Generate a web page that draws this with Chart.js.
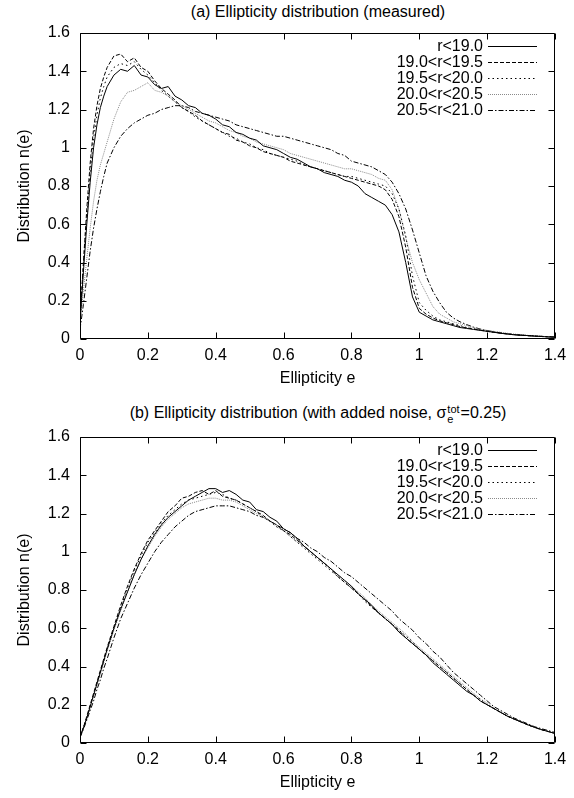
<!DOCTYPE html>
<html>
<head>
<meta charset="utf-8">
<script src="https://cdn.jsdelivr.net/npm/chart.js@4.4.1/dist/chart.umd.min.js"></script>
<style>
  html, body { margin: 0; padding: 0; background: #fff; overflow: hidden; }
  body { width: 574px; height: 798px; position: relative; font-family: "Liberation Sans", Arial, sans-serif; }
  .box { position: absolute; left: 0; width: 574px; }
  .ttl { position: absolute; left: 318px; transform: translateX(-50%); white-space: nowrap;
         font-size: 16px; line-height: 19px; color: #000; }
  .ss { display: inline-block; vertical-align: middle; font-size: 11px; line-height: 10px; text-align: left; margin: 0 1px; }
  .ss span { display: block; }
</style>
</head>
<body>
<div class="ttl" style="top:2px">(a) Ellipticity distribution (measured)</div>
<div class="ttl" style="top:403px">(b) Ellipticity distribution (with added noise, σ<span class="ss"><span>tot</span><span>e</span></span>=0.25)</div>
<div class="box" style="top:0;height:400px"><canvas id="chartA" width="574" height="400"></canvas></div>
<div class="box" style="top:400px;height:398px"><canvas id="chartB" width="574" height="398"></canvas></div>
<script>
const seriesLabels = ["r<19.0", "19.0<r<19.5", "19.5<r<20.0", "20.0<r<20.5", "20.5<r<21.0"];

const ePts = [0, 0.01, 0.02, 0.03, 0.04, 0.05, 0.06, 0.07, 0.08,
  0.10, 0.12, 0.14, 0.16, 0.18, 0.20, 0.22, 0.24, 0.26, 0.28,
  0.30, 0.32, 0.34, 0.36, 0.38, 0.40, 0.42, 0.44, 0.46, 0.48,
  0.50, 0.52, 0.54, 0.56, 0.58, 0.60, 0.62, 0.64, 0.66, 0.68,
  0.70, 0.72, 0.74, 0.76, 0.78, 0.80, 0.82, 0.84, 0.86, 0.88,
  0.90, 0.92, 0.94, 0.96, 0.98, 1.00, 1.02, 1.04, 1.06, 1.08,
  1.10, 1.12, 1.14, 1.16, 1.18, 1.20, 1.22, 1.24, 1.26, 1.28,
  1.30, 1.32, 1.34, 1.36, 1.38, 1.40];

// (a) measured
const aR19 = [0.08, 0.35, 0.60, 0.82, 1.00, 1.12, 1.21, 1.27, 1.32,
  1.38, 1.41, 1.40, 1.43, 1.38, 1.37, 1.33, 1.31, 1.32, 1.27,
  1.25, 1.22, 1.21, 1.18, 1.17, 1.15, 1.12, 1.11, 1.08, 1.07,
  1.05, 1.04, 1.01, 1.00, 0.99, 0.97, 0.95, 0.94, 0.92, 0.90,
  0.89, 0.87, 0.86, 0.85, 0.83, 0.82, 0.80, 0.76, 0.74, 0.72,
  0.70, 0.65, 0.56, 0.40, 0.22, 0.14, 0.12, 0.10, 0.09, 0.08,
  0.07, 0.06, 0.055, 0.05, 0.045, 0.04, 0.035, 0.03, 0.026, 0.022,
  0.02, 0.018, 0.015, 0.013, 0.011, 0.01];
const aR195 = [0.10, 0.40, 0.68, 0.92, 1.10, 1.22, 1.31, 1.37, 1.42,
  1.48, 1.49, 1.45, 1.47, 1.42, 1.40, 1.35, 1.31, 1.28, 1.25,
  1.21, 1.19, 1.17, 1.14, 1.12, 1.10, 1.08, 1.07, 1.04, 1.03,
  1.01, 1.00, 0.98, 0.97, 0.96, 0.95, 0.93, 0.92, 0.91, 0.90,
  0.89, 0.88, 0.87, 0.86, 0.85, 0.84, 0.83, 0.82, 0.81, 0.80,
  0.78, 0.73, 0.64, 0.48, 0.27, 0.16, 0.13, 0.11, 0.095, 0.085,
  0.075, 0.065, 0.058, 0.052, 0.046, 0.04, 0.035, 0.03, 0.026, 0.022,
  0.02, 0.017, 0.015, 0.013, 0.011, 0.01];
const aR20 = [0.10, 0.38, 0.64, 0.87, 1.05, 1.17, 1.26, 1.32, 1.37,
  1.42, 1.44, 1.43, 1.45, 1.41, 1.38, 1.34, 1.30, 1.27, 1.24,
  1.21, 1.19, 1.16, 1.14, 1.12, 1.10, 1.08, 1.06, 1.05, 1.03,
  1.02, 1.00, 0.99, 0.97, 0.96, 0.95, 0.94, 0.93, 0.91, 0.90,
  0.89, 0.88, 0.87, 0.86, 0.85, 0.85, 0.84, 0.83, 0.82, 0.81,
  0.80, 0.76, 0.68, 0.54, 0.33, 0.19, 0.15, 0.12, 0.10, 0.09,
  0.08, 0.07, 0.06, 0.053, 0.047, 0.041, 0.036, 0.031, 0.027, 0.023,
  0.02, 0.018, 0.016, 0.014, 0.012, 0.01];
const aR205 = [0.08, 0.25, 0.42, 0.58, 0.72, 0.83, 0.91, 0.97, 1.03,
  1.15, 1.24, 1.29, 1.30, 1.32, 1.34, 1.30, 1.29, 1.27, 1.24,
  1.22, 1.20, 1.18, 1.16, 1.14, 1.13, 1.11, 1.09, 1.08, 1.06,
  1.05, 1.03, 1.02, 1.01, 1.00, 0.99, 0.97, 0.96, 0.95, 0.94,
  0.93, 0.92, 0.91, 0.90, 0.89, 0.89, 0.88, 0.87, 0.86, 0.84,
  0.83, 0.78, 0.68, 0.53, 0.40, 0.31, 0.24, 0.17, 0.13, 0.11,
  0.09, 0.08, 0.07, 0.06, 0.052, 0.045, 0.04, 0.035, 0.03, 0.026,
  0.022, 0.019, 0.016, 0.014, 0.012, 0.01];
const aR21 = [0.05, 0.18, 0.32, 0.46, 0.58, 0.68, 0.77, 0.85, 0.92,
  1.00, 1.06, 1.10, 1.13, 1.15, 1.17, 1.18, 1.20, 1.21, 1.22,
  1.22, 1.21, 1.19, 1.18, 1.17, 1.16, 1.15, 1.14, 1.12, 1.11,
  1.10, 1.09, 1.08, 1.07, 1.06, 1.06, 1.05, 1.04, 1.03, 1.02,
  1.01, 1.00, 0.99, 0.97, 0.96, 0.93, 0.92, 0.91, 0.90, 0.88,
  0.86, 0.82, 0.76, 0.68, 0.57, 0.45, 0.33, 0.25, 0.19, 0.14,
  0.11, 0.09, 0.075, 0.062, 0.052, 0.044, 0.038, 0.032, 0.027, 0.023,
  0.02, 0.018, 0.016, 0.014, 0.012, 0.01];

// (b) with added noise
const bR19 = [0.03, 0.08, 0.13, 0.19, 0.25, 0.31, 0.37, 0.43, 0.49,
  0.60, 0.70, 0.79, 0.88, 0.96, 1.03, 1.09, 1.14, 1.18, 1.21,
  1.24, 1.27, 1.29, 1.31, 1.33, 1.33, 1.31, 1.32, 1.30, 1.27,
  1.26, 1.22, 1.21, 1.18, 1.16, 1.12, 1.10, 1.07, 1.03, 1.00,
  0.97, 0.94, 0.91, 0.88, 0.85, 0.82, 0.78, 0.75, 0.72, 0.68,
  0.65, 0.62, 0.58, 0.55, 0.52, 0.49, 0.46, 0.42, 0.39, 0.36,
  0.33, 0.30, 0.27, 0.25, 0.22, 0.20, 0.18, 0.16, 0.14, 0.125,
  0.11, 0.095, 0.082, 0.07, 0.06, 0.05];
const bR195 = [0.03, 0.08, 0.14, 0.20, 0.26, 0.32, 0.38, 0.44, 0.50,
  0.61, 0.72, 0.82, 0.91, 0.99, 1.06, 1.11, 1.16, 1.21, 1.24,
  1.28, 1.29, 1.31, 1.32, 1.30, 1.32, 1.29, 1.28, 1.27, 1.25,
  1.23, 1.21, 1.19, 1.16, 1.14, 1.11, 1.09, 1.06, 1.03, 1.00,
  0.97, 0.94, 0.91, 0.87, 0.84, 0.81, 0.78, 0.75, 0.71, 0.68,
  0.65, 0.62, 0.59, 0.55, 0.52, 0.49, 0.46, 0.43, 0.40, 0.37,
  0.34, 0.31, 0.28, 0.25, 0.22, 0.20, 0.18, 0.16, 0.14, 0.125,
  0.11, 0.095, 0.082, 0.07, 0.06, 0.05];
const bR20 = [0.03, 0.08, 0.13, 0.19, 0.25, 0.31, 0.37, 0.43, 0.49,
  0.60, 0.71, 0.81, 0.90, 0.98, 1.05, 1.10, 1.15, 1.19, 1.22,
  1.25, 1.27, 1.28, 1.29, 1.30, 1.31, 1.30, 1.28, 1.27, 1.25,
  1.23, 1.21, 1.18, 1.16, 1.13, 1.11, 1.08, 1.05, 1.02, 0.99,
  0.96, 0.93, 0.90, 0.87, 0.84, 0.81, 0.78, 0.74, 0.71, 0.68,
  0.65, 0.62, 0.59, 0.56, 0.53, 0.49, 0.46, 0.43, 0.40, 0.37,
  0.34, 0.31, 0.28, 0.25, 0.23, 0.20, 0.18, 0.16, 0.14, 0.125,
  0.11, 0.095, 0.082, 0.07, 0.06, 0.05];
const bR205 = [0.03, 0.08, 0.13, 0.19, 0.25, 0.30, 0.36, 0.42, 0.48,
  0.59, 0.69, 0.79, 0.88, 0.96, 1.02, 1.08, 1.13, 1.17, 1.20,
  1.23, 1.25, 1.26, 1.27, 1.28, 1.28, 1.27, 1.27, 1.26, 1.24,
  1.22, 1.20, 1.18, 1.16, 1.13, 1.11, 1.08, 1.05, 1.03, 1.00,
  0.97, 0.94, 0.91, 0.88, 0.85, 0.82, 0.79, 0.76, 0.72, 0.69,
  0.66, 0.63, 0.60, 0.57, 0.53, 0.50, 0.47, 0.44, 0.41, 0.38,
  0.35, 0.32, 0.29, 0.26, 0.23, 0.21, 0.18, 0.16, 0.14, 0.125,
  0.11, 0.095, 0.082, 0.07, 0.06, 0.05];
const bR21 = [0.03, 0.07, 0.12, 0.17, 0.22, 0.28, 0.33, 0.39, 0.44,
  0.55, 0.65, 0.73, 0.81, 0.88, 0.94, 1.00, 1.05, 1.09, 1.13,
  1.16, 1.19, 1.21, 1.22, 1.23, 1.24, 1.24, 1.24, 1.23, 1.22,
  1.21, 1.19, 1.18, 1.16, 1.14, 1.12, 1.10, 1.07, 1.05, 1.02,
  1.00, 0.97, 0.95, 0.92, 0.89, 0.87, 0.84, 0.81, 0.78, 0.75,
  0.72, 0.69, 0.65, 0.62, 0.59, 0.55, 0.52, 0.48, 0.45, 0.41,
  0.37, 0.34, 0.31, 0.28, 0.25, 0.22, 0.19, 0.17, 0.15, 0.13,
  0.115, 0.10, 0.085, 0.075, 0.065, 0.055];

const lineStyles = [
  { color: '#000', dash: [] },
  { color: '#000', dash: [4, 2] },
  { color: '#000', dash: [1.5, 3] },
  { color: '#8a8a8a', dash: [1, 1] },
  { color: '#000', dash: [5, 2, 1.5, 2] }
];

Chart.defaults.font.family = '"Liberation Sans", Arial, sans-serif';
Chart.defaults.font.size = 16;
Chart.defaults.color = '#000';

// gnuplot-like frame: full border, inward mirrored ticks, key at top right
const gnuFrame = {
  id: 'gnuFrame',
  afterDatasetsDraw(chart) {
    const { ctx, chartArea: a, scales: { x, y } } = chart;
    const L = a.left + 0.5, R = a.right - 0.5, T = a.top + 0.5, B = a.bottom - 0.5;
    ctx.save();
    ctx.strokeStyle = '#000';
    ctx.lineWidth = 1;
    ctx.setLineDash([]);
    ctx.beginPath();
    ctx.rect(L, T, R - L, B - T);
    x.ticks.forEach(t => {
      const px = Math.round(x.getPixelForValue(t.value)) + 0.5;
      ctx.moveTo(px, B); ctx.lineTo(px, B - 6);
      ctx.moveTo(px, T); ctx.lineTo(px, T + 6);
    });
    y.ticks.forEach(t => {
      const py = Math.round(y.getPixelForValue(t.value)) + 0.5;
      ctx.moveTo(L, py); ctx.lineTo(L + 6, py);
      ctx.moveTo(R, py); ctx.lineTo(R - 6, py);
    });
    ctx.stroke();

    ctx.font = '16px "Liberation Sans", Arial, sans-serif';
    ctx.textAlign = 'right';
    ctx.textBaseline = 'middle';
    chart.data.datasets.forEach((ds, i) => {
      const ly = Math.round(a.top + 12.5 + i * 16) + 0.5;
      ctx.fillStyle = '#000';
      ctx.fillText(ds.label, a.right - 72, ly);
      ctx.strokeStyle = ds.borderColor;
      ctx.setLineDash(ds.borderDash);
      ctx.beginPath();
      ctx.moveTo(a.right - 67, ly);
      ctx.lineTo(a.right - 18, ly);
      ctx.stroke();
    });
    ctx.restore();
  }
};

function makeChart(canvasId, seriesList, pad) {
  const datasets = seriesList.map((vals, i) => ({
    label: seriesLabels[i],
    data: ePts.map((e, k) => ({ x: e, y: vals[k] })),
    borderColor: lineStyles[i].color,
    borderDash: lineStyles[i].dash,
    borderWidth: 1,
    pointRadius: 0,
    tension: 0,
    fill: false
  }));
  const fmt = v => String(+Number(v).toFixed(1));
  return new Chart(document.getElementById(canvasId), {
    type: 'line',
    data: { datasets: datasets },
    options: {
      responsive: false,
      animation: false,
      layout: { padding: pad },
      plugins: { legend: { display: false }, tooltip: { enabled: false } },
      scales: {
        x: {
          type: 'linear', min: 0, max: 1.4,
          border: { display: false },
          grid: { display: false, drawTicks: false },
          ticks: { stepSize: 0.2, padding: 7, maxRotation: 0, autoSkip: false, callback: fmt },
          title: { display: true, text: 'Ellipticity e', padding: { top: 0, bottom: 2.4 } },
          afterFit: s => { s.height = 52; }
        },
        y: {
          min: 0, max: 1.6,
          border: { display: false },
          grid: { display: false, drawTicks: false },
          ticks: { stepSize: 0.2, padding: 10, callback: fmt },
          title: { display: true, text: 'Distribution n(e)', padding: { top: 15.4, bottom: 0 } },
          afterFit: s => { s.width = 80; }
        }
      }
    },
    plugins: [gnuFrame]
  });
}

makeChart('chartA', [aR19, aR195, aR20, aR205, aR21], { left: 0, right: 19, top: 33, bottom: 9 });
makeChart('chartB', [bR19, bR195, bR20, bR205, bR21], { left: 0, right: 19, top: 37, bottom: 3 });
</script>
</body>
</html>
